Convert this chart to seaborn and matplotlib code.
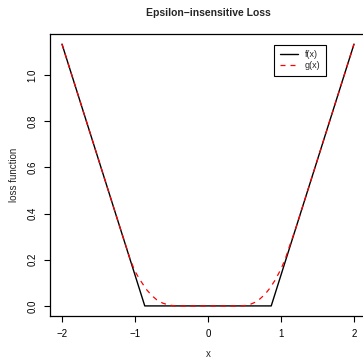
import numpy as np
import pandas as pd
import seaborn as sns
import matplotlib
matplotlib.use("Agg")
import matplotlib.pyplot as plt

# values
f_x = [-2.0, -0.866, 0.866, 2.0]
f_y = [1.134, 0.0, 0.0, 1.134]

g_x = [-2.0, -1.5, -1.2, -1.1, -1.07, -1.0, -0.93, -0.84, -0.77, -0.70, -0.62,
       -0.54, -0.45, 0.0, 0.45, 0.55, 0.64, 0.71, 0.78, 0.85, 0.92, 1.0, 1.06,
       1.12, 1.2, 1.5, 2.0]
g_y = [1.134, 0.634, 0.334, 0.236, 0.205, 0.150, 0.112, 0.070, 0.045, 0.026, 0.012,
       0.004, 0.0, 0.0, 0.0, 0.003, 0.015, 0.030, 0.050, 0.078, 0.112, 0.160, 0.205,
       0.262, 0.334, 0.634, 1.134]

sns.set_style("ticks")
plt.rcParams["font.family"] = ["Liberation Sans", "DejaVu Sans"]

fig = plt.figure(figsize=(3.63, 3.57), dpi=100)
ax = fig.add_axes([50.3 / 363, (357 - 316.4) / 357, 315.4 / 363, 282.8 / 357])

df_f = pd.DataFrame({"x": f_x, "y": f_y})
df_g = pd.DataFrame({"x": g_x, "y": g_y})
sns.lineplot(data=df_f, x="x", y="y", ax=ax, color="black", lw=1.0, label="f(x)")
sns.lineplot(data=df_g, x="x", y="y", ax=ax, color="red", lw=0.9,
             dashes=False, linestyle=(0, (4, 4)), label="g(x)")

ax.set_xlim(-2.16, 2.16)
ax.set_ylim(-0.0454, 1.1794)
ax.set_xticks([-2, -1, 0, 1, 2])
ax.set_xticklabels(["\u22122", "\u22121", "0", "1", "2"])
ax.set_yticks([0.0, 0.2, 0.4, 0.6, 0.8, 1.0])
ax.set_yticklabels(["0.0", "0.2", "0.4", "0.6", "0.8", "1.0"], rotation=90, va="center")
ax.tick_params(length=4, width=0.8, labelsize=7, pad=5, color="black", labelcolor="black")
for s in ax.spines.values():
    s.set_linewidth(0.9)
    s.set_color("black")

ax.set_xlabel("x", fontsize=7, labelpad=7)
ax.set_ylabel("loss function", fontsize=7, labelpad=6)
ax.set_title("Epsilon\u2212insensitive Loss", fontsize=7.5, fontweight="bold", pad=13)

leg = ax.legend(loc="upper right", bbox_to_anchor=(0.874, 0.96), fontsize=6.5,
                frameon=True, fancybox=False, edgecolor="black", framealpha=1,
                handlelength=2.0, borderaxespad=0, borderpad=0.6, labelspacing=0.2)
leg.get_frame().set_linewidth(0.8)

fig.savefig("out.png", dpi=100)
